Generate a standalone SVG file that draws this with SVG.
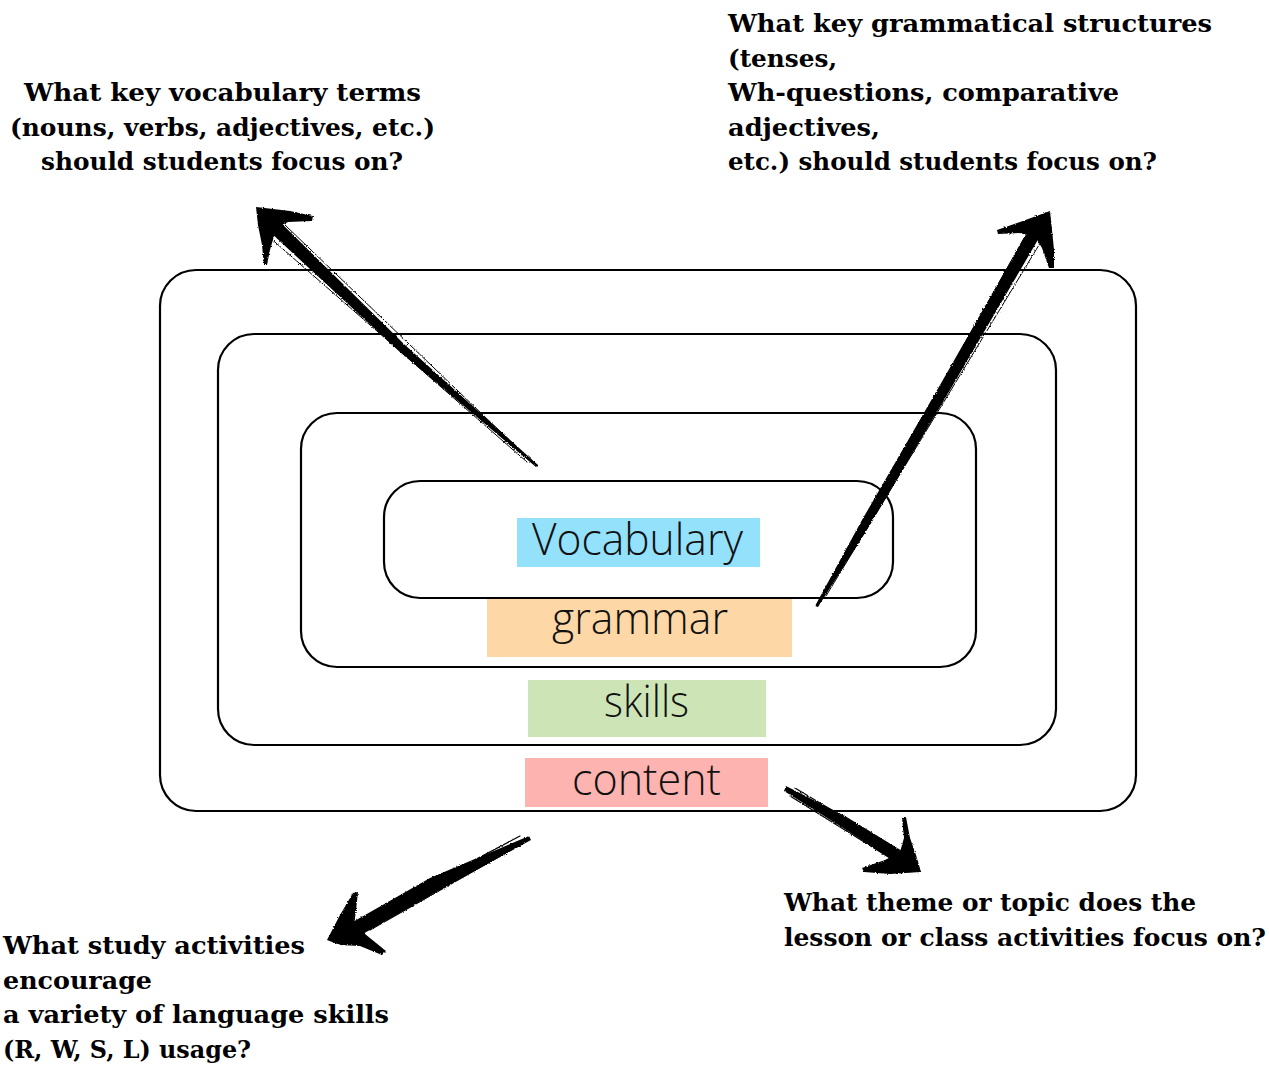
<svg xmlns="http://www.w3.org/2000/svg" width="1269" height="1065" viewBox="0 0 1269 1065">
  <style>
    .frame { fill: none; stroke: #000; stroke-width: 2.2; }
    .label { font-family: "Open Sans", "Noto Sans", sans-serif; font-weight: 300; font-size: 44px; fill: #111; }
    .q { font-family: "DejaVu Serif", "Liberation Serif", serif; font-stretch: condensed; font-weight: bold; font-size: 25px; fill: #000; }
    .ink { fill: #000; }
    .fiber { fill: none; stroke: #000; stroke-linecap: round; }
  </style>
  <defs>
    <!-- rough edges for the hand-drawn arrows -->
    <filter id="rough" x="-10%" y="-10%" width="120%" height="120%">
      <feTurbulence type="fractalNoise" baseFrequency="0.9" numOctaves="2" seed="3" result="n"/>
      <feDisplacementMap in="SourceGraphic" in2="n" scale="2.5" xChannelSelector="R" yChannelSelector="G"/>
    </filter>
  </defs>

  <!-- nested frames, outermost first -->
  <g id="frame-content"><rect class="frame" x="160" y="270" width="976" height="541" rx="36"/></g>
  <g id="frame-skills"><rect class="frame" x="218" y="334" width="838" height="411" rx="36"/></g>
  <g id="frame-grammar"><rect class="frame" x="301" y="413" width="675" height="254" rx="36"/></g>
  <g id="frame-vocabulary"><rect class="frame" x="384" y="481" width="509" height="117" rx="36"/></g>

  <!-- layer labels -->
  <g id="label-vocabulary">
    <rect x="517" y="518" width="243" height="49" fill="#94E1FB"/>
    <text class="label" x="532" y="555" textLength="211" lengthAdjust="spacingAndGlyphs">Vocabulary</text>
  </g>
  <g id="label-grammar">
    <rect x="487" y="599" width="305" height="58" fill="#FDD8A6"/>
    <text class="label" x="552" y="634" textLength="176" lengthAdjust="spacingAndGlyphs">grammar</text>
  </g>
  <g id="label-skills">
    <rect x="528" y="680" width="238" height="57" fill="#CDE5B6"/>
    <text class="label" x="604" y="717" textLength="85" lengthAdjust="spacingAndGlyphs">skills</text>
  </g>
  <g id="label-content">
    <rect x="525" y="758" width="243" height="49" fill="#FDB3AF"/>
    <text class="label" x="572" y="795" textLength="149" lengthAdjust="spacingAndGlyphs">content</text>
  </g>

  <!-- question texts -->
  <g id="q-vocabulary">
    <text class="q" x="24" y="101" textLength="397" lengthAdjust="spacingAndGlyphs">What key vocabulary terms</text>
    <text class="q" x="10" y="136" textLength="425" lengthAdjust="spacingAndGlyphs">(nouns, verbs, adjectives, etc.)</text>
    <text class="q" x="41" y="170" textLength="362" lengthAdjust="spacingAndGlyphs">should students focus on?</text>
  </g>
  <g id="q-grammar">
    <text class="q" x="728" y="32" textLength="484" lengthAdjust="spacingAndGlyphs">What key grammatical structures</text>
    <text class="q" x="728" y="67" textLength="109" lengthAdjust="spacingAndGlyphs">(tenses,</text>
    <text class="q" x="728" y="101" textLength="391" lengthAdjust="spacingAndGlyphs">Wh-questions, comparative</text>
    <text class="q" x="728" y="136" textLength="152" lengthAdjust="spacingAndGlyphs">adjectives,</text>
    <text class="q" x="728" y="170" textLength="429" lengthAdjust="spacingAndGlyphs">etc.) should students focus on?</text>
  </g>
  <g id="q-skills">
    <text class="q" x="3" y="954" textLength="302" lengthAdjust="spacingAndGlyphs">What study activities</text>
    <text class="q" x="3" y="989" textLength="149" lengthAdjust="spacingAndGlyphs">encourage</text>
    <text class="q" x="3" y="1023" textLength="386" lengthAdjust="spacingAndGlyphs">a variety of language skills</text>
    <text class="q" x="3" y="1058" textLength="248" lengthAdjust="spacingAndGlyphs">(R, W, S, L) usage?</text>
  </g>
  <g id="q-content">
    <text class="q" x="784" y="911" textLength="412" lengthAdjust="spacingAndGlyphs">What theme or topic does the</text>
    <text class="q" x="784" y="946" textLength="482" lengthAdjust="spacingAndGlyphs">lesson or class activities focus on?</text>
  </g>

  <!-- hand-drawn connectors -->
  <g id="connectors" filter="url(#rough)">
    <!-- up-left: to the vocabulary question -->
    <g id="arrow-vocabulary">
      <polygon class="ink" points="280,222 271,233 400,352 536,467 538,465 405,345"/>
      <path class="fiber" stroke-width="1" d="M285,225 L532,462 M268,236 L527,462"/>
      <polygon class="ink" points="256,207 290,211 313,216 312,221 288,222 280,226 274,236 270,250 267,265 264,265 262,245 258,225"/>
    </g>
    <!-- up-right: to the grammar question -->
    <g id="arrow-grammar">
      <polygon class="ink" points="1028,231 1039,238 950,390 870,525 818,607 815,606 862,520 940,385"/>
      <path class="fiber" stroke-width="1" d="M1024,238 L822,598 M1042,240 L826,596"/>
      <polygon class="ink" points="1050,211 1052,230 1054,250 1054,268 1049,268 1042,248 1036,238 1020,233 998,234 997,230 1020,222"/>
    </g>
    <!-- down-left: to the skills question -->
    <g id="arrow-skills">
      <polygon class="ink" points="529,836 531,840 440,890 361,935 351,923 430,878"/>
      <path class="fiber" stroke-width="1.2" d="M525,842 L370,930 M520,836 L365,918"/>
      <polygon class="ink" points="327,940 340,915 353,893 358,892 356,910 354,926 365,934 386,951 382,955 360,946 340,945"/>
    </g>
    <!-- down-right: to the content question -->
    <g id="arrow-content">
      <polygon class="ink" points="786,786 784,791 840,826 900,865 907,854 845,816"/>
      <path class="fiber" stroke-width="1.2" d="M790,796 L890,858 M795,788 L895,848"/>
      <polygon class="ink" points="902,818 906,817 910,838 916,855 921,872 890,874 864,872 862,868 885,860 900,852 904,838"/>
    </g>
  </g>
</svg>
